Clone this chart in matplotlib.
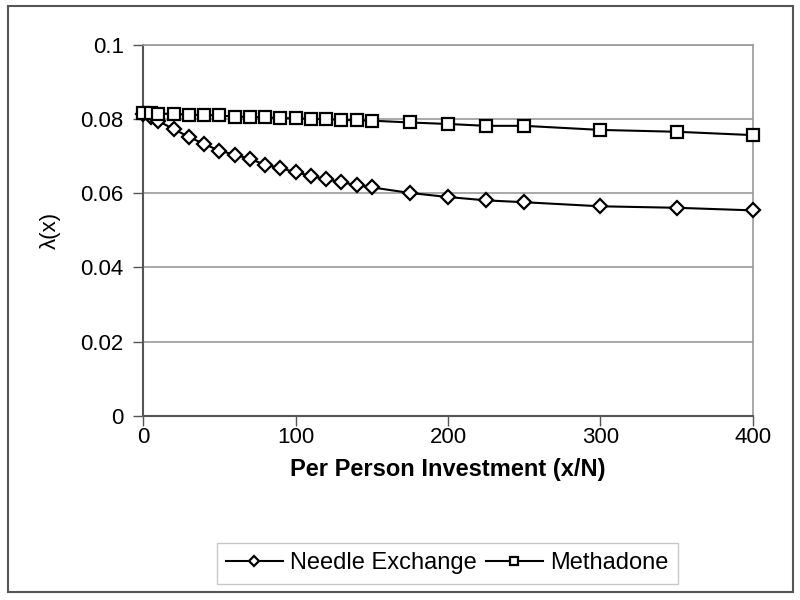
import numpy as np
import matplotlib
matplotlib.use("Agg")
import matplotlib.pyplot as plt
from matplotlib.patches import Rectangle

plt.rcParams['font.family'] = ['Liberation Sans', 'DejaVu Sans']

# per person investment (x/N)
invest = [0, 5, 10, 20, 30, 40, 50, 60, 70, 80, 90, 100, 110, 120, 130, 140, 150,
          175, 200, 225, 250, 300, 350, 400]
needle = [0.0815, 0.0805, 0.0795, 0.0773, 0.0752, 0.0733, 0.0715, 0.0704, 0.0693,
          0.0677, 0.0668, 0.0657, 0.0647, 0.0638, 0.0630, 0.0622, 0.0616,
          0.0601, 0.0590, 0.0581, 0.0576, 0.0565, 0.0561, 0.0554]
methadone = [0.0816, 0.0816, 0.0815, 0.0814, 0.0812, 0.0811, 0.0810, 0.0807, 0.0806,
             0.0805, 0.0803, 0.0802, 0.0801, 0.0800, 0.0798, 0.0797, 0.0796,
             0.0791, 0.0787, 0.0782, 0.0782, 0.0771, 0.0766, 0.0757]

fig = plt.figure(figsize=(8, 6), dpi=100)
ax = fig.add_axes([0.179, 0.307, 0.762, 0.618])

ax.plot(invest, needle, color='black', lw=1.5, marker='D', markersize=7.5,
        markerfacecolor='white', markeredgecolor='black', markeredgewidth=1.6,
        label='Needle Exchange', clip_on=False, zorder=3)
ax.plot(invest, methadone, color='black', lw=1.5, marker='s', markersize=8.5,
        markerfacecolor='white', markeredgecolor='black', markeredgewidth=1.6,
        label='Methadone', clip_on=False, zorder=3)

ax.set_xlim(0, 400)
ax.set_ylim(0, 0.1)
ax.set_xticks([0, 100, 200, 300, 400])
ax.set_yticks([0, 0.02, 0.04, 0.06, 0.08, 0.1])
ax.set_yticklabels(['0', '0.02', '0.04', '0.06', '0.08', '0.1'])
ax.yaxis.grid(True, color='#999999', lw=1.2)
ax.set_axisbelow(True)

ax.spines['left'].set_color('#555555')
ax.spines['bottom'].set_color('#555555')
ax.spines['left'].set_linewidth(1.5)
ax.spines['bottom'].set_linewidth(1.5)
ax.spines['top'].set_color('#999999')
ax.spines['right'].set_color('#999999')
ax.spines['top'].set_linewidth(1.2)
ax.spines['right'].set_linewidth(1.2)

ax.tick_params(axis='both', direction='out', length=7, width=1, color='#555555',
               labelsize=16, pad=7)
ax.tick_params(axis='x', pad=1)

ax.set_xlabel('Per Person Investment (x/N)', fontsize=17, fontweight='bold', labelpad=7)
ax.set_ylabel('\u03bb(x)', fontsize=16, labelpad=14)

leg = ax.legend(loc='center', bbox_to_anchor=(0.559, 0.061), bbox_transform=fig.transFigure,
                ncol=2, fontsize=17, frameon=True, fancybox=False, edgecolor='#bbbbbb',
                handlelength=2.4, handletextpad=0.3, columnspacing=0.4,
                borderpad=0.4, markerscale=0.7)
leg.get_frame().set_linewidth(1.0)

fig.patches.append(Rectangle((0.01, 0.013), 0.981, 0.977, transform=fig.transFigure,
                             fill=False, edgecolor='#555555', lw=1.5))

fig.savefig('out.png', dpi=100)
